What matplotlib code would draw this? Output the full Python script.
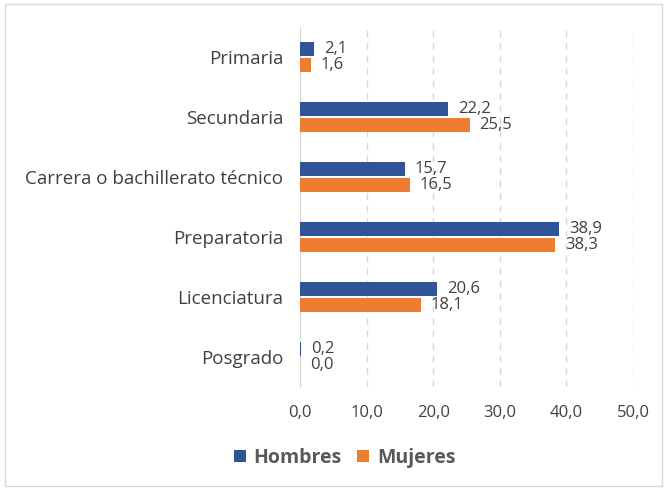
import matplotlib.pyplot as plt
import numpy as np
from matplotlib.patches import Rectangle

# data
categorias = ['Primaria', 'Secundaria', 'Carrera o bachillerato técnico',
              'Preparatoria', 'Licenciatura', 'Posgrado']
hombres = [2.1, 22.2, 15.7, 38.9, 20.6, 0.2]
mujeres = [1.6, 25.5, 16.5, 38.3, 18.1, 0.0]
ticks = [0, 10, 20, 30, 40, 50]

azul = '#2F5597'
naranja = '#ED7D31'
gris = '#404040'

plt.rcParams['font.family'] = ['Open Sans', 'DejaVu Sans']

fig = plt.figure(figsize=(6.67, 4.9), dpi=100)
ax = fig.add_axes([0.45, 0.21, 0.499, 0.735])

y = np.arange(len(categorias))
h = 0.24
off = 0.13
b1 = ax.barh(y - off, hombres, height=h, color=azul, label='Hombres', zorder=3)
b2 = ax.barh(y + off, mujeres, height=h, color=naranja, label='Mujeres', zorder=3)

for bars, vals in [(b1, hombres), (b2, mujeres)]:
    for bar, v in zip(bars, vals):
        ax.annotate(f'{v:.1f}'.replace('.', ','),
                    (bar.get_width(), bar.get_y() + bar.get_height() / 2),
                    xytext=(7, 0), textcoords='offset points',
                    va='center', ha='left', fontsize=12, color=gris)

ax.set_ylim(len(categorias) - 0.5, -0.5)
ax.set_xlim(0, 50)
ax.set_yticks(y)
ax.set_yticklabels(categorias, fontsize=13.5, color=gris)
ax.set_xticks(ticks)
ax.set_xticklabels([f'{t:.1f}'.replace('.', ',') for t in ticks], fontsize=12, color=gris)
ax.tick_params(length=0)
ax.tick_params(axis='x', pad=13)
ax.tick_params(axis='y', pad=12)

ax.grid(axis='x', color='#D9D9D9', linestyle=(0, (5, 4)), linewidth=1, zorder=0)
for s in ['top', 'right', 'bottom']:
    ax.spines[s].set_visible(False)
ax.spines['left'].set_color('#D9D9D9')

leg = fig.legend(loc='lower center', bbox_to_anchor=(0.517, 0.01), ncol=2, frameon=False,
                 prop={'weight': 'bold', 'size': 14}, handlelength=0.6, handleheight=0.6,
                 columnspacing=0.8, handletextpad=0.4)
for t in leg.get_texts():
    t.set_color('#595959')

fig.patches.append(Rectangle((0.008, 0.008), 0.984, 0.984, transform=fig.transFigure,
                             fill=False, edgecolor='#D9D9D9', linewidth=1))

plt.savefig('out.png', dpi=100)
